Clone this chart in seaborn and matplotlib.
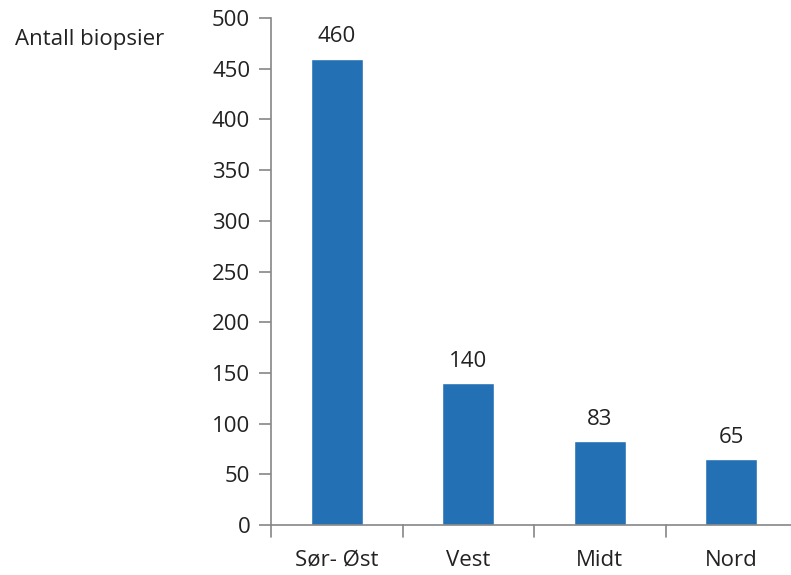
import matplotlib
matplotlib.use('Agg')
import matplotlib.pyplot as plt
import seaborn as sns
import pandas as pd

# Data
regions = ['Sør- Øst', 'Vest', 'Midt', 'Nord']
biopsies = [460, 140, 83, 65]
y_ticks = list(range(0, 501, 50))

df = pd.DataFrame({'Region': regions, 'Antall': biopsies})

sns.set_theme(style='white')
plt.rcParams['font.family'] = ['Open Sans', 'DejaVu Sans']

bar_color = '#2470B4'
axis_color = '#868686'
text_color = '#222222'
fs = 16

fig = plt.figure(figsize=(7.91, 5.75), dpi=100)
W, H = 791, 575
# axes spans past the right edge as in the original
ax = fig.add_axes([271 / W, 1 - 525 / H, (797 - 271) / W, (525 - 18) / H])

sns.barplot(data=df, x='Region', y='Antall', color=bar_color, width=0.395,
            saturation=1, ax=ax)

ax.set_ylim(0, 500)
ax.set_xlim(-0.5, len(regions) - 0.5)
ax.set_yticks(y_ticks)
ax.set_yticklabels([str(v) for v in y_ticks], fontsize=fs, color=text_color)
ax.set_xlabel('')
ax.set_ylabel('')
ax.set_xticks(range(len(regions)))
ax.set_xticklabels(regions, fontsize=fs, color=text_color)
ax.tick_params(axis='x', length=0, pad=18)
ax.tick_params(axis='y', length=9, width=1.2, color=axis_color, direction='out',
               pad=6, left=True)

# ticks between categories on the x axis
for b in [-0.5, 0.5, 1.5, 2.5]:
    ax.plot([b, b], [0, -0.023], transform=ax.get_xaxis_transform(),
            color=axis_color, lw=1.2, clip_on=False)

for side in ['top', 'right']:
    ax.spines[side].set_visible(False)
for side in ['left', 'bottom']:
    ax.spines[side].set_color(axis_color)
    ax.spines[side].set_linewidth(1.2)

# value labels
for i, v in enumerate(biopsies):
    ax.annotate(str(v), (i, v), xytext=(0, 8), textcoords='offset points',
                ha='center', va='bottom', fontsize=fs, color=text_color)

fig.text(15 / W, 1 - 39 / H, 'Antall biopsier', fontsize=fs, color=text_color,
         ha='left', va='center')

fig.savefig('out.png', dpi=100)
